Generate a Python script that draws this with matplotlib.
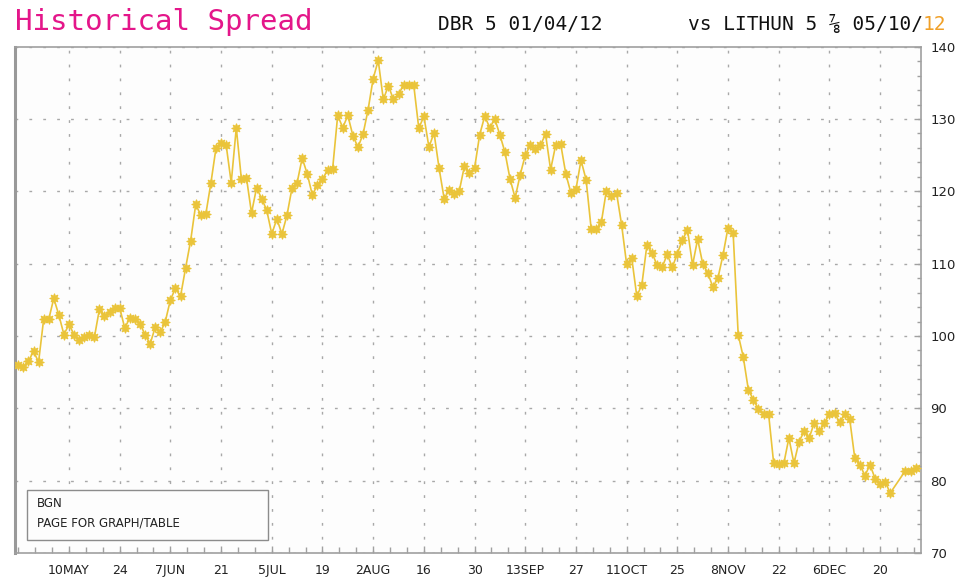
import numpy as np
import pandas as pd
import matplotlib
matplotlib.use("Agg")
import matplotlib.pyplot as plt
from matplotlib.patches import Rectangle
from matplotlib.ticker import FixedLocator, MultipleLocator

# ---------------- data ----------------
start_date = "2012-04-26"
end_date = "2012-12-31"
holidays = ["2012-12-25", "2012-12-26"]

spread = [
    96.0, 95.7, 96.5, 97.9, 96.4, 102.3, 102.3, 105.2, 102.9, 100.2,
    101.6, 100.2, 99.5, 99.8, 100.2, 99.8, 103.7, 102.8, 103.3, 103.9,
    103.9, 101.1, 102.5, 102.4, 101.7, 100.2, 98.9, 101.2, 100.5, 102.0,
    105.0, 106.6, 105.5, 109.4, 113.2, 118.2, 116.7, 116.9, 121.2, 126.0,
    126.7, 126.4, 121.2, 128.8, 121.7, 121.9, 117.0, 120.5, 119.0, 117.4,
    114.1, 116.2, 114.1, 116.7, 120.5, 121.2, 124.6, 122.4, 119.5, 120.9,
    121.7, 122.9, 123.1, 130.5, 128.8, 130.5, 127.7, 126.1, 127.9, 131.3,
    135.6, 138.1, 132.7, 134.6, 132.7, 133.4, 134.7, 134.7, 134.7, 128.7,
    130.4, 126.1, 128.1, 123.2, 119.0, 120.2, 119.7, 120.1, 123.5, 122.6,
    123.2, 127.8, 130.4, 128.8, 130.0, 127.8, 125.4, 121.7, 119.1, 122.3,
    125.0, 126.4, 125.8, 126.4, 127.9, 123.0, 126.4, 126.5, 122.4, 119.8,
    120.3, 124.3, 121.6, 114.8, 114.8, 115.7, 120.1, 119.4, 119.8, 115.4,
    109.9, 110.8, 105.5, 107.1, 112.6, 111.5, 109.8, 109.5, 111.3, 109.5,
    111.4, 113.3, 114.7, 109.8, 113.4, 110.0, 108.7, 106.8, 108.0, 111.2,
    115.0, 114.3, 100.2, 97.1, 92.6, 91.2, 89.9, 89.2, 89.2, 82.4,
    82.3, 82.4, 85.9, 82.4, 85.4, 86.8, 85.9, 88.0, 86.8, 88.0,
    89.2, 89.3, 88.1, 89.2, 88.5, 83.1, 82.2, 80.7, 82.2, 80.3,
    79.5, 79.8, 78.3, 81.4, 81.4, 81.7,
]

tick_dates = ["2012-05-10", "2012-05-24", "2012-06-07", "2012-06-21",
              "2012-07-05", "2012-07-19", "2012-08-02", "2012-08-16",
              "2012-08-30", "2012-09-13", "2012-09-27", "2012-10-11",
              "2012-10-25", "2012-11-08", "2012-11-22", "2012-12-06",
              "2012-12-20"]
tick_labels = ["10MAY", "24", "7JUN", "21", "5JUL", "19", "2AUG", "16",
               "30", "13SEP", "27", "11OCT", "25", "8NOV", "22", "6DEC", "20"]
y_ticks = [70, 80, 90, 100, 110, 120, 130, 140]

title_main = "Historical Spread"
title_left = "DBR 5 01/04/12"
title_right = "vs LITHUN 5 \u215e 05/10/"
title_right_tail = "12"
box_lines = ["BGN", "PAGE FOR GRAPH/TABLE"]

# ---------------- helpers ----------------
d0 = np.datetime64(start_date, "D")
dates = pd.bdate_range(start_date, end_date)
dates = dates[~dates.isin(pd.to_datetime(holidays))]
x = np.busday_count(d0, dates.values.astype("datetime64[D]"))
xt = np.busday_count(d0, np.array(tick_dates, dtype="datetime64[D]"))

yellow = "#EAC43A"
grid_c = "#A8A8A8"
spine_c = "#A0A0A0"

W, H = 967, 578
fig = plt.figure(figsize=(W / 100, H / 100), dpi=100)
fig.patch.set_facecolor("white")

L, R, T, B = 15, 920.7, 46.7, 553
ax = fig.add_axes([L / W, 1 - B / H, (R - L) / W, (B - T) / H])
ax.set_facecolor("#FDFDFD")

ax.plot(x, spread, color=yellow, lw=1.2, marker=(8, 1, 0), ms=7,
        mfc=yellow, mec=yellow, mew=0.7, zorder=3)

ax.set_xlim(-0.65, 178.0)
ax.set_ylim(70, 140)

# y axis on right
ax.yaxis.tick_right()
ax.yaxis.set_major_locator(FixedLocator(y_ticks))
ax.yaxis.set_minor_locator(MultipleLocator(2))
ax.tick_params(axis="y", which="major", direction="in", length=5, width=1,
               color=spine_c, labelsize=9.5, labelcolor="#222222", pad=7)
ax.tick_params(axis="y", which="minor", direction="in", length=3, width=1,
               color=spine_c)

# x axis
ax.xaxis.set_major_locator(FixedLocator(xt))
ax.set_xticklabels(tick_labels)
ax.xaxis.set_minor_locator(FixedLocator(np.arange(0, 179, 10 / 3)))
ax.tick_params(axis="x", which="major", direction="in", length=5, width=1,
               color=spine_c, labelsize=9, labelcolor="#222222", pad=8)
ax.tick_params(axis="x", which="minor", direction="in", length=4, width=1,
               color=spine_c)

ax.grid(True, which="major", color=grid_c, lw=1.0, linestyle=(0, (2, 8)))

for s in ["top", "right", "bottom"]:
    ax.spines[s].set_color(spine_c)
    ax.spines[s].set_linewidth(1.2)
ax.spines["left"].set_color("#999999")
ax.spines["left"].set_linewidth(2.2)

# ---------------- titles ----------------
base_y = 1 - 30 / H
fig.text(15 / W, base_y, title_main, color="#E4168A",
         fontsize=21, family="DejaVu Sans Mono", va="baseline", ha="left")
fig.text(438 / W, base_y, title_left, color="#111111",
         fontsize=14, family="DejaVu Sans Mono", va="baseline", ha="left")
t_right = fig.text(688 / W, base_y, title_right, color="#111111",
                   fontsize=14, family=["DejaVu Sans Mono", "DejaVu Sans"],
                   va="baseline", ha="left")
fig.canvas.draw()
bb = t_right.get_window_extent(renderer=fig.canvas.get_renderer())
fig.text(bb.x1 / W, base_y, title_right_tail, color="#F0A028",
         fontsize=14, family="DejaVu Sans Mono", va="baseline", ha="left")

# ---------------- info box ----------------
bx0, bx1, by0, by1 = 27, 268, 490, 540
fig.patches.append(Rectangle((bx0 / W, 1 - by1 / H), (bx1 - bx0) / W,
                             (by1 - by0) / H, transform=fig.transFigure,
                             facecolor="#FDFDFD", edgecolor="#8C8C8C",
                             lw=1.0, zorder=5))
fig.text(37 / W, 1 - 507 / H, box_lines[0], fontsize=8.5, color="#222222",
         va="baseline", ha="left", zorder=6)
fig.text(37 / W, 1 - 527 / H, box_lines[1], fontsize=8.5, color="#222222",
         va="baseline", ha="left", zorder=6)

fig.savefig("out.png", dpi=100, facecolor="white")
